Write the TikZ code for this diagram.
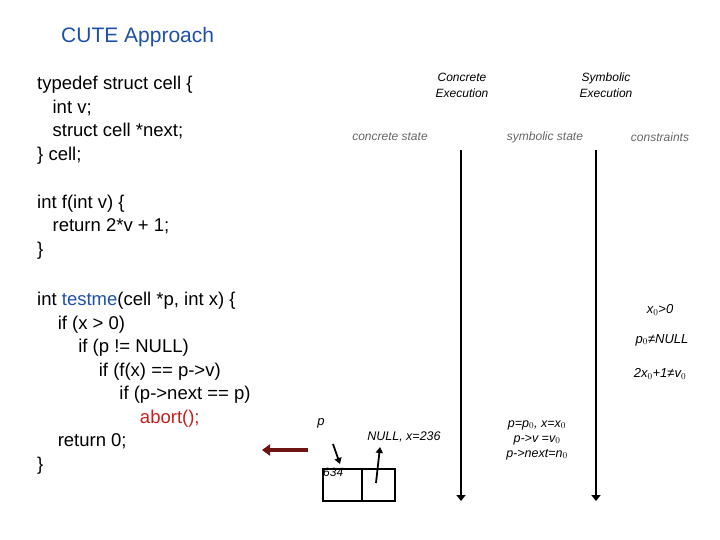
\documentclass[tikz,border=0pt]{standalone}
\usepackage{fontspec}
\setmainfont{Liberation Sans}
\usepackage{xcolor}
\usetikzlibrary{arrows.meta,positioning}
\definecolor{codeblue}{RGB}{30,80,170}
\definecolor{abortred}{RGB}{200,30,30}
\definecolor{darkred}{RGB}{110,20,20}
\begin{document}
\begin{tikzpicture}[x=1pt, y=-1pt,
    code/.style={anchor=west, align=left, inner sep=0pt, font=\fontsize{18.5}{23.5}\selectfont},
    lbl/.style={font=\fontsize{12}{16}\selectfont\itshape, align=center, inner sep=1pt},
    hdr/.style={font=\fontsize{12}{16}\selectfont\itshape, text=gray!80!black, inner sep=1pt}]
        \useasboundingbox (0,0) rectangle (720,540);
        % Title
        \node[anchor=west, font=\fontsize{21}{24}\selectfont, text=codeblue, inner sep=0pt] (title) at (61,37) {CUTE Approach};

        % Program text
        \node[code] (tdef) at (37,120) {typedef struct cell \{\\\ \ \ int v;\\\ \ \ struct cell *next;\\\} cell;};
        \node[code] (fdef) at (37,227) {int f(int v) \{\\\ \ \ return 2*v + 1;\\\}};
        \node[code] (tdefn) at (37,383) {int \textcolor{codeblue}{testme}(cell *p, int x) \{\\
            \ \ \ \ if (x > 0)\\
            \ \ \ \ \ \ \ \ if (p != NULL)\\
            \ \ \ \ \ \ \ \ \ \ \ \ if (f(x) == p->v)\\
            \ \ \ \ \ \ \ \ \ \ \ \ \ \ \ \ if (p->next == p)\\
            \ \ \ \ \ \ \ \ \ \ \ \ \ \ \ \ \ \ \ \ \textcolor{abortred}{abort();}\\
            \ \ \ \ return 0;\\\}};

        % Column headers
        \node[lbl] (conc) at (462,85) {Concrete\\Execution};
        \node[lbl] (symb) at (606,85) {Symbolic\\Execution};
        \node[hdr] (cstate) at (390,137) {concrete state};
        \node[hdr] (sstate) at (545,137) {symbolic state};
        \node[hdr] (cons) at (660,137) {constraints};

        % Time lines
        \coordinate (t1a) at (461,150);
        \coordinate (t1b) at (461,501);
        \coordinate (t2a) at (596,150);
        \coordinate (t2b) at (596,501);
        \draw[line width=1.8pt, -{Triangle[width=9pt,length=6pt]}] (t1a) -- (t1b);
        \draw[line width=1.8pt, -{Triangle[width=9pt,length=6pt]}] (t2a) -- (t2b);

        % Constraints
        \node[lbl, font=\fontsize{13}{15}\selectfont\itshape] (c1) at (660,310) {x$_0$>0};
        \node[lbl, font=\fontsize{13}{15}\selectfont\itshape] (c2) at (662,340) {p$_0$≠NULL};
        \node[lbl, font=\fontsize{13}{15}\selectfont\itshape] (c3) at (660,374) {2x$_0$+1≠v$_0$};

        % Symbolic state
        \node[lbl, font=\fontsize{12.5}{15}\selectfont\itshape] (sym) at (537,440) {p=p$_0$, x=x$_0$\\p->v =v$_0$\\p->next=n$_0$};

        % Concrete state: cell
        \node[draw, line width=2pt, minimum width=39pt, minimum height=32pt, anchor=north west, inner sep=0pt] (cv) at (322,468) {};
        \node[draw, line width=2pt, minimum width=33pt, minimum height=32pt, anchor=north west, inner sep=0pt] (cn) at (361,468) {};
        \node[lbl, anchor=north west, font=\fontsize{12}{13}\selectfont\itshape] (val) at (322,467) {634};
        \node[lbl, font=\fontsize{13}{15}\selectfont\itshape] (pl) at (321,423) {p};
        \node[lbl, font=\fontsize{12.5}{15}\selectfont\itshape] (nl) at (404,437) {NULL, x=236};
        \coordinate (pa) at (333,444);
        \coordinate (pb) at (340,464);
        \coordinate (na) at (376,483);
        \coordinate (nb) at (380,447);
        \draw[line width=1.8pt, -{Triangle[width=7pt,length=6pt]}] (pa) -- (pb);
        \draw[line width=1.8pt, -{Triangle[width=7pt,length=6pt]}] (na) -- (nb);

        % Arrow to abort
        \coordinate (aa) at (308,450);
        \coordinate (ab) at (262,450);
        \draw[line width=4.5pt, darkred, -{Triangle[width=11pt,length=8pt]}] (aa) -- (ab);
    \end{tikzpicture}
\end{document}
